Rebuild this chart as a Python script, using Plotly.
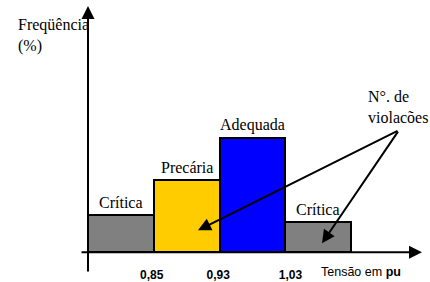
import plotly.graph_objects as go

# Data
categories = ["Crítica", "Precária", "Adequada", "Crítica"]
bin_index = [0.5, 1.5, 2.5, 3.5]
frequency = [15, 29, 46, 12]
bar_colors = ["#808080", "#FFCC00", "#0000FF", "#808080"]
tick_positions = [0.97, 1.98, 3.08]
tick_labels = ["0,85", "0,93", "1,03"]

W, H = 430, 282
px_per_unit = 65.75
x0_px = 88
base_px = 254
px_per_val = 2.5

x_range = [-x0_px / px_per_unit, (W - x0_px) / px_per_unit]
y_top = base_px / px_per_val

def ux(px):
    return (px - x0_px) / px_per_unit

def vy(py):
    return (base_px - py) / px_per_val

SERIF = "Liberation Serif, Times New Roman, Times, serif"
SANS = "Liberation Sans, Arial, Helvetica, sans-serif"

fig = go.Figure()
fig.add_trace(go.Bar(
    x=bin_index, y=frequency, width=[1] * len(bin_index),
    marker=dict(color=bar_colors, line=dict(color="black", width=2)),
    cliponaxis=False, hoverinfo="skip",
))

serif = dict(family=SERIF, size=16, color="black")
annotations = []

# category labels above bars
for xc, yv, name in zip(bin_index, frequency, categories):
    annotations.append(dict(x=xc, y=yv, xref="x", yref="y", text=name, showarrow=False,
                            yanchor="bottom", yshift=2, font=serif))

# axis arrows
annotations.append(dict(x=ux(422), y=0, ax=ux(80), ay=0, xref="x", yref="y", axref="x", ayref="y",
                        text="", showarrow=True, arrowhead=2, arrowsize=1.3, arrowwidth=2, arrowcolor="black"))
annotations.append(dict(x=0, y=vy(6), ax=0, ay=vy(275), xref="x", yref="y", axref="x", ayref="y",
                        text="", showarrow=True, arrowhead=2, arrowsize=1.3, arrowwidth=2, arrowcolor="black"))

# violation arrows
start = (ux(399), vy(131))
for end in [(ux(198), vy(232)), (ux(322), vy(245))]:
    annotations.append(dict(x=end[0], y=end[1], ax=start[0], ay=start[1], xref="x", yref="y",
                            axref="x", ayref="y", text="", showarrow=True, arrowhead=2,
                            arrowsize=1.3, arrowwidth=2, arrowcolor="black"))

annotations.append(dict(x=16 / W, y=1 - 14 / H, xref="paper", yref="paper", xanchor="left", yanchor="top",
                        text="Freqüência<br>(%)", align="left", showarrow=False, font=serif))
annotations.append(dict(x=366 / W, y=1 - 87 / H, xref="paper", yref="paper", xanchor="left", yanchor="top",
                        text="N°. de<br>violacões", align="left", showarrow=False, font=serif))
annotations.append(dict(x=319 / W, y=1 - 274 / H, xref="paper", yref="paper", xanchor="left", yanchor="middle",
                        text="Tensão em <b>pu</b>", showarrow=False,
                        font=dict(family=SANS, size=12.5, color="black")))

fig.update_layout(
    width=W, height=H, margin=dict(l=0, r=0, t=0, b=0),
    paper_bgcolor="white", plot_bgcolor="white",
    showlegend=False, bargap=0,
    annotations=annotations,
    xaxis=dict(range=x_range, showgrid=False, zeroline=False, showline=False,
               tickvals=tick_positions, ticktext=["<b>%s</b>" % t for t in tick_labels],
               ticks="outside", ticklen=11, tickcolor="rgba(0,0,0,0)",
               tickfont=dict(family=SANS, size=12, color="black")),
    yaxis=dict(domain=[(H - base_px) / H, 1], range=[0, y_top], showgrid=False, zeroline=False,
               showline=False, showticklabels=False),
)

fig.write_html("out.html", config={"displayModeBar": False})
with open("out.html", "r", encoding="utf-8") as f:
    html = f.read()
html = html.replace("<head>", "<head><style>html,body{margin:0;padding:0;overflow:hidden;}</style>", 1)
with open("out.html", "w", encoding="utf-8") as f:
    f.write(html)
